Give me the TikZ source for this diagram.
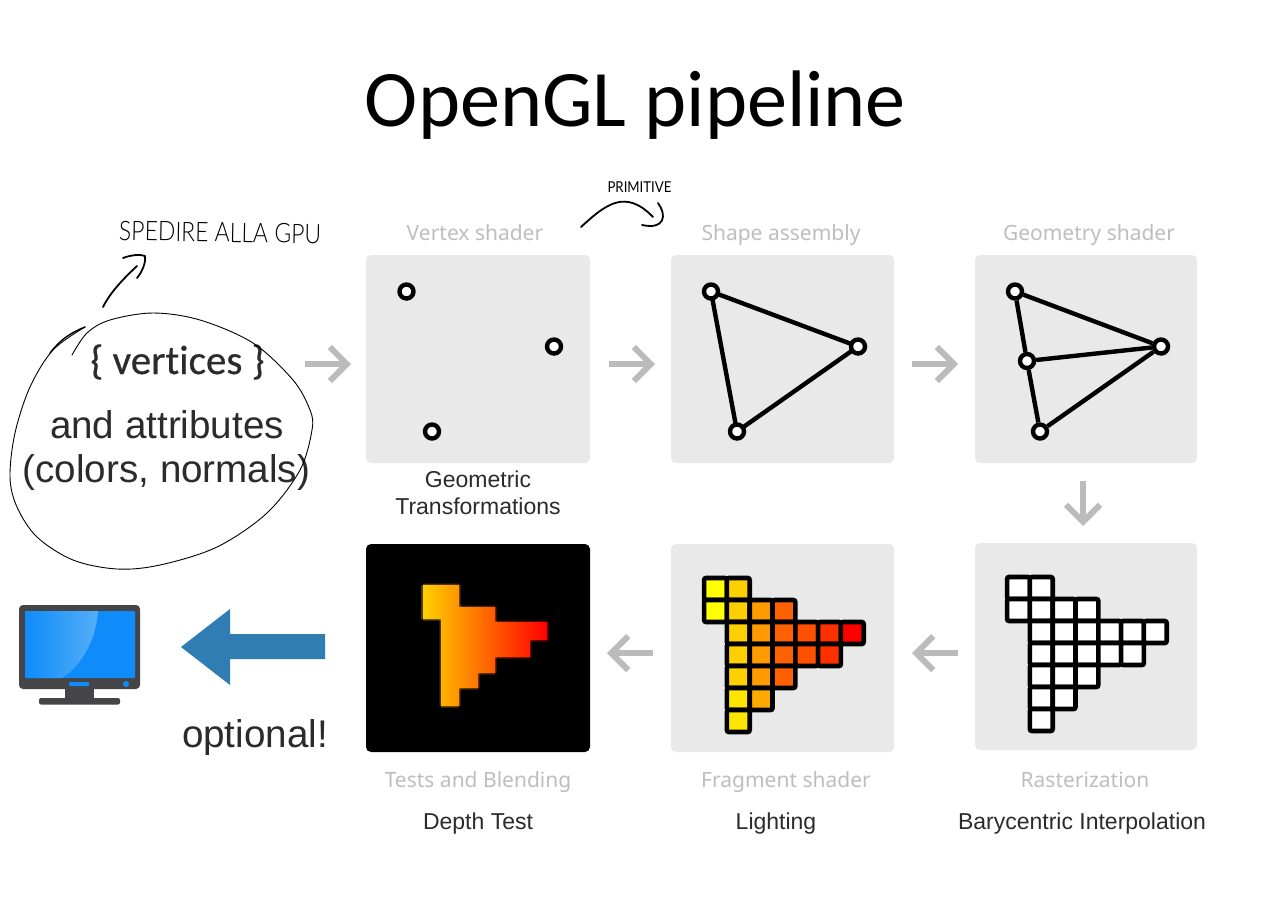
\documentclass[tikz,border=0pt]{standalone}
\usepackage{fontspec}
\setmainfont{Liberation Sans}
\newfontfamily\calfont{Carlito}
\newfontfamily\calmed[FakeBold=0.5,Ligatures=NoCommon]{Carlito}
\newfontfamily\labfont{Noto Sans}
\newfontfamily\handfont{Lato Light}
\newfontfamily\primfont{Lato}
\usetikzlibrary{arrows.meta}
\definecolor{panel}{HTML}{E9E9E9}
\definecolor{soft}{HTML}{BBBBBB}
\definecolor{softtext}{HTML}{BEBEBE}
\definecolor{ink}{HTML}{2B2B2B}
\definecolor{bluearrow}{HTML}{2F7DB3}
\definecolor{monitor}{HTML}{454547}
\definecolor{screen}{HTML}{0F8CFA}
\definecolor{screenlight}{HTML}{55AEF7}
\definecolor{fa}{HTML}{FFFF00}
\definecolor{fb}{HTML}{FFD000}
\definecolor{fbb}{HTML}{FFE600}
\definecolor{fc}{HTML}{FF9A00}
\definecolor{fcc}{HTML}{FFAA00}
\definecolor{fd}{HTML}{FF6000}
\definecolor{fe}{HTML}{FF5000}
\definecolor{ff}{HTML}{FF3000}
\definecolor{fg}{HTML}{FF0000}
\tikzset{
  panelbox/.style={fill=panel,rounded corners=5pt,draw=none},
  softlabel/.style={anchor=base,text=softtext,font=\labfont\fontsize{21}{25}\selectfont},
  caption/.style={anchor=base,text=ink,font=\fontsize{23}{27}\selectfont,align=center},
  bigtext/.style={anchor=base,text=ink,font=\fontsize{38.6}{44}\selectfont},
  softarrow/.style={draw=soft,line width=6pt,-{Straight Barb[length=17pt,width=34pt,line width=6pt]}},
  edge/.style={draw=black,line width=4.4pt},
  vert/.style={circle,draw=black,fill=white,line width=4.4pt,minimum size=14pt,inner sep=0pt},
  cell/.style={draw=black,line width=4.6pt,rounded corners=2pt},
  hand/.style={draw=black,line width=1.8pt,line cap=round,line join=round},
  thinhand/.style={draw=black,line width=0.9pt,line cap=round,line join=round},
  handtext/.style={anchor=base,text=black,font=\handfont\fontsize{27}{32}\selectfont}
}
\newcommand{\pix}[4]{\filldraw[cell,fill=#4] ({#1+#2*22.8-11.4},{#3-11}) rectangle ++(22.8,22);}
\newcommand{\blendshape}{(423,585) -- (459,585) -- (459,607) -- (495,607) -- (495,622) -- (547,622) -- (547,640)
  -- (530,640) -- (530,657) -- (495,657) -- (495,673) -- (478,673) -- (478,688)
  -- (459,688) -- (459,706) -- (441,706) -- (441,619) -- (423,619) -- cycle}
\begin{document}
\begin{tikzpicture}[x=1pt,y=-1pt]
\useasboundingbox[fill=white] (0,0) rectangle (1280,903);
\node[anchor=base,font=\calfont\fontsize{80.2}{90}\selectfont,text=black] (title) at (635.5,126) {OpenGL pipeline};

% panels
\fill[panelbox] (366,255) rectangle (590,463);
\fill[panelbox] (671,255) rectangle (894,463);
\fill[panelbox] (975,255) rectangle (1197,463);
\fill[panelbox] (671,544) rectangle (894,752);
\fill[panelbox] (975,543) rectangle (1197,750);
\fill[black,rounded corners=5pt] (366,544) rectangle (590,752);

% soft labels
\node[softlabel] (l1) at (475,240) {Vertex shader};
\node[softlabel] (l2) at (781,240) {Shape assembly};
\node[softlabel] (l3) at (1089,240) {Geometry shader};
\node[softlabel] (l4) at (478,787) {Tests and Blending};
\node[softlabel] (l5) at (786,787) {Fragment shader};
\node[softlabel] (l6) at (1085,787) {Rasterization};

% captions
\node[caption] (c1a) at (478,487) {Geometric};
\node[caption] (c1b) at (478,514) {Transformations};
\node[caption] (c2) at (478,829) {Depth Test};
\node[caption] (c3) at (776,829) {Lighting};
\node[caption] (c4) at (1082,829) {Barycentric Interpolation};

% vertex shader
\node[vert] (a1) at (406.5,291.5) {};
\node[vert] (a2) at (554,346.5) {};
\node[vert] (a3) at (432,431.5) {};
% shape assembly
\draw[edge] (711,291.5) coordinate (b1c) -- (858,346.5) coordinate (b2c) -- (737,431.5) coordinate (b3c) -- cycle;
\node[vert] (b1) at (b1c) {};
\node[vert] (b2) at (b2c) {};
\node[vert] (b3) at (b3c) {};
% geometry shader
\node[vert] (g1) at (1015,291.5) {};
\node[vert] (g2) at (1161,346.5) {};
\node[vert] (g3) at (1040,431.5) {};
\node[vert] (g4) at (1027,361) {};
\draw[edge] (g1) -- (g2) (g2) -- (g3) (g3) -- (g4) (g4) -- (g1) (g4) -- (g2);

% fragment shader and rasterization cells
\foreach \ox/\oy/\mode in {715.5/589/1,1018.5/588/0}{
  \foreach \c/\r/\col in {
    0/0/fa,1/0/fb,
    0/1/fa,1/1/fb,2/1/fc,3/1/fd,
    1/2/fb,2/2/fc,3/2/fd,4/2/fe,5/2/ff,6/2/fg,
    1/3/fb,2/3/fc,3/3/fd,4/3/fe,5/3/ff,
    1/4/fb,2/4/fc,3/4/fd,
    1/5/fbb,2/5/fcc,
    1/6/fbb}{
    \ifnum\mode=1
      \pix{\ox}{\c}{\oy+\r*22}{\col}
    \else
      \pix{\ox}{\c}{\oy+\r*22}{white}
    \fi
  }
}

% blended triangle with soft edge
\foreach \dx/\dy in {-1.5/0,1.5/0,0/-1.5,0/1.5}{
  \shade[xshift=\dx pt,yshift=\dy pt,left color=fb,middle color=fd,right color=fg,shading angle=90,opacity=0.3] \blendshape;
}
\shade[left color=fb,middle color=fd,right color=fg,shading angle=90] \blendshape;

% grey pipeline arrows
\coordinate (p1s) at (305,364); \coordinate (p1e) at (351,364);
\coordinate (p2s) at (609,364); \coordinate (p2e) at (655,364);
\coordinate (p3s) at (912,364); \coordinate (p3e) at (958,364);
\coordinate (p4s) at (1083,481); \coordinate (p4e) at (1083,526);
\coordinate (p5s) at (958,653); \coordinate (p5e) at (912,653);
\coordinate (p6s) at (653,653); \coordinate (p6e) at (607,653);
\draw[softarrow] (p1s) -- (p1e);
\draw[softarrow] (p2s) -- (p2e);
\draw[softarrow] (p3s) -- (p3e);
\draw[softarrow] (p4s) -- (p4e);
\draw[softarrow] (p5s) -- (p5e);
\draw[softarrow] (p6s) -- (p6e);

% left texts
\node[anchor=base,text=ink,font=\calmed\fontsize{41}{48}\selectfont] (vt) at (177.5,374) {\{ vertices \}};
\node[bigtext] (at1) at (167,438) {and attributes};
\node[bigtext] (at2) at (166.5,482) {(colors, normals)};
\node[bigtext] (opt) at (255,747) {optional!};

% blue arrow
\fill[bluearrow] (181,647) -- (230,609) -- (230,634) -- (325,634) -- (325,659) -- (230,659) -- (230,685) -- cycle;

% monitor
\fill[monitor,rounded corners=4pt] (19,605) rectangle (140,689);
\fill[monitor] (65,688) rectangle (94,700);
\fill[monitor,rounded corners=2pt] (39,698) rectangle (120,704.5);
\fill[screen,rounded corners=1pt] (25,611) rectangle (135,678);
\shade[left color=screen,right color=screenlight,shading angle=90]
  (25,611) -- (98,611) .. controls (96,640) and (82,665) .. (62,678) -- (25,678) -- cycle;
\fill[screen,rounded corners=1pt] (69,682) rectangle (89,686);
\fill[screen] (126,684) circle (3pt);

% handwriting
\draw[thinhand] plot[smooth,tension=0.55] coordinates {(72,355) (87,333) (110,320) (153,313) (200,320) (253,343) (293,380) (310,410) (312,430) (300,470) (267,513) (217,547) (160,565) (117,569) (73,560) (37,537) (17,507) (10,477) (15,433) (30,387) (53,350) (85,327)};
\draw[draw=black,line width=1.4pt,line cap=round] (85,327) .. controls (70,333) and (60,340) .. (50,353);
\draw[hand] (103,307) .. controls (110,293) and (122,280) .. (137,266);
\draw[hand] (123,258) .. controls (131,255) and (140,254) .. (145,256) .. controls (146,263) and (142,272) .. (137,278);
\draw[hand] (581,227) .. controls (605,205) and (625,188) .. (653,217);
\draw[hand] (658,203) .. controls (667,215) and (665,230) .. (642,225);
\node[handtext,rotate=-1,xscale=0.85] (send) at (220,242) {SPEDIRE ALLA GPU};
\node[anchor=base,text=black,xscale=0.88,font=\primfont\fontsize{15}{18}\selectfont] (prim) at (639.5,192) {PRIMITIVE};
\end{tikzpicture}
\end{document}
